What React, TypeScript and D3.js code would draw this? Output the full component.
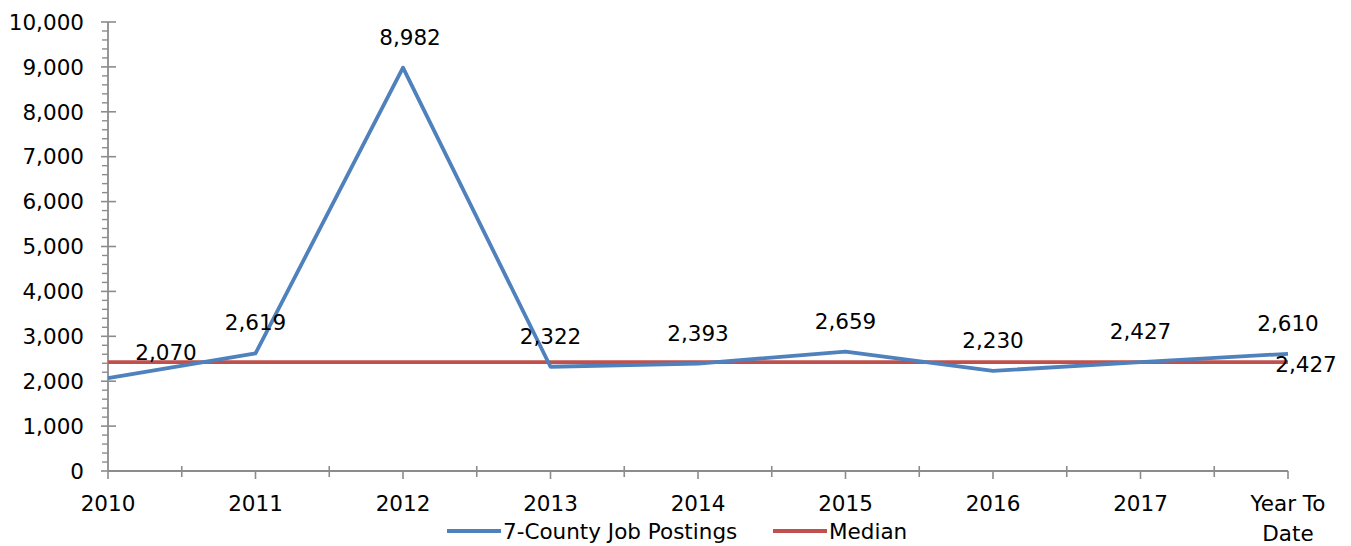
import React, { useEffect, useRef } from "react"
import * as d3 from "d3"

const categories: string[] = ["2010", "2011", "2012", "2013", "2014", "2015", "2016", "2017", "Year To Date"]
const postings: number[] = [2070, 2619, 8982, 2322, 2393, 2659, 2230, 2427, 2610]
const median: number[] = [2427, 2427, 2427, 2427, 2427, 2427, 2427, 2427, 2427]
const yTicks: number[] = [0, 1000, 2000, 3000, 4000, 5000, 6000, 7000, 8000, 9000, 10000]
const seriesNames: string[] = ["7-County Job Postings", "Median"]

const width = 1351
const height = 546
const FONT = "'DejaVu Sans', sans-serif"
const BLUE = "#4F81BD"
const RED = "#C0504D"
const AXIS = "#8c8c8c"

function App() {
    const ref = useRef<SVGSVGElement>(null)

    useEffect(() => {
        const svg = d3.select(ref.current)
        svg.selectAll("*").remove()

        const left = 108, right = 1288, top = 22, bottom = 471

        const x = d3.scalePoint<string>().domain(categories).range([left, right])
        const y = d3.scaleLinear().domain([0, 10000]).range([bottom, top])

        const g = svg.append("g").attr("font-family", FONT).attr("font-size", 21.5).attr("fill", "#000")

        // y minor ticks
        const minor = d3.range(0, 10001, 200).filter(v => v % 1000 !== 0)
        g.selectAll("line.minor").data(minor).enter().append("line")
            .attr("x1", left - 6).attr("x2", left)
            .attr("y1", d => y(d)).attr("y2", d => y(d))
            .attr("stroke", AXIS).attr("stroke-width", 1.4)

        // y major ticks
        g.selectAll("line.major").data(yTicks).enter().append("line")
            .attr("x1", left - 7).attr("x2", left + 8)
            .attr("y1", d => y(d)).attr("y2", d => y(d))
            .attr("stroke", AXIS).attr("stroke-width", 1.6)

        g.selectAll("text.ylab").data(yTicks).enter().append("text")
            .attr("x", 84).attr("y", d => y(d)).attr("dy", "0.36em")
            .attr("text-anchor", "end")
            .text(d => d3.format(",")(d))

        // axes lines
        g.append("line").attr("x1", left).attr("x2", left).attr("y1", top).attr("y2", bottom)
            .attr("stroke", AXIS).attr("stroke-width", 1.8)
        g.append("line").attr("x1", left).attr("x2", right).attr("y1", bottom).attr("y2", bottom)
            .attr("stroke", AXIS).attr("stroke-width", 1.8)

        // x ticks at categories
        g.selectAll("line.xt").data(categories).enter().append("line")
            .attr("x1", d => x(d) as number).attr("x2", d => x(d) as number)
            .attr("y1", bottom).attr("y2", bottom + 8)
            .attr("stroke", AXIS).attr("stroke-width", 1.6)
        // midpoint ticks
        const step = x.step()
        g.selectAll("line.xm").data(categories.slice(0, -1)).enter().append("line")
            .attr("x1", d => (x(d) as number) + step / 2).attr("x2", d => (x(d) as number) + step / 2)
            .attr("y1", bottom - 5).attr("y2", bottom + 6)
            .attr("stroke", AXIS).attr("stroke-width", 1.6)

        // x labels
        categories.forEach(c => {
            const words = c === "Year To Date" ? ["Year To", "Date"] : [c]
            words.forEach((w, i) => {
                g.append("text")
                    .attr("x", x(c) as number).attr("y", 511 + i * 30)
                    .attr("text-anchor", "middle").text(w)
            })
        })

        // median line
        const line = d3.line<number>().x((_, i) => x(categories[i]) as number).y(d => y(d))
        g.append("path").datum(median).attr("d", line)
            .attr("fill", "none").attr("stroke", RED).attr("stroke-width", 3.8)
        g.append("path").datum(postings).attr("d", line)
            .attr("fill", "none").attr("stroke", BLUE).attr("stroke-width", 3.8)
            .attr("stroke-linejoin", "round")

        // data labels
        g.selectAll("text.dl").data(postings).enter().append("text")
            .attr("x", (_, i) => (x(categories[i]) as number) + (i === 0 ? 58 : i === 2 ? 7 : 0))
            .attr("y", (d, i) => y(d) - (i === 0 ? 18 : 23))
            .attr("text-anchor", "middle")
            .text(d => d3.format(",")(d))

        const last = median.length - 1
        g.append("text")
            .attr("x", (x(categories[last]) as number) + 18)
            .attr("y", y(median[last]) + 10)
            .attr("text-anchor", "middle")
            .text(d3.format(",")(median[last]))

        // legend
        const legend = [
            { name: seriesNames[0], color: BLUE, x0: 447 },
            { name: seriesNames[1], color: RED, x0: 773 },
        ]
        legend.forEach(l => {
            g.append("line").attr("x1", l.x0).attr("x2", l.x0 + 54).attr("y1", 531).attr("y2", 531)
                .attr("stroke", l.color).attr("stroke-width", 3.8)
            g.append("text").attr("x", l.x0 + 56).attr("y", 539).text(l.name)
        })
    }, [])

    return (
        <svg ref={ref} width={width} height={height}
            style={{ position: "fixed", left: 0, top: 0, background: "#fff" }} />
    )
}

export default App
